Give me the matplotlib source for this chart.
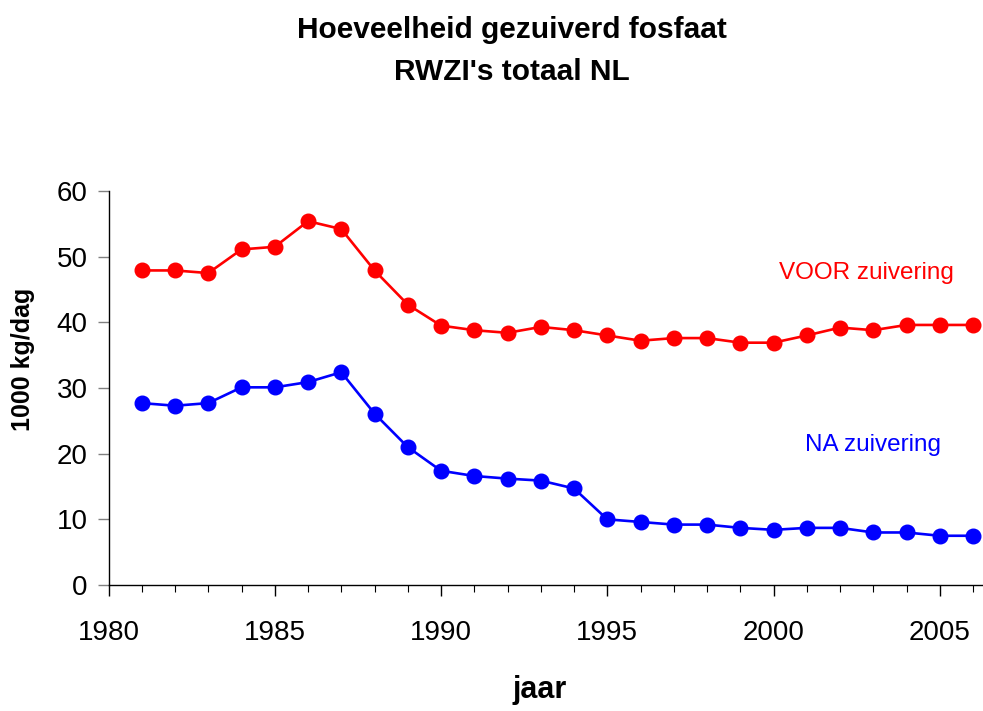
import matplotlib

matplotlib.use("Agg")
import matplotlib.pyplot as plt
from matplotlib.ticker import MultipleLocator

# gezuiverd fosfaat, RWZI's totaal NL (1000 kg/dag)
years = list(range(1981, 2007))
voor = [47.9, 47.9, 47.5, 51.1, 51.5, 55.4, 54.2, 47.9, 42.7, 39.5,
        38.8, 38.4, 39.3, 38.8, 38.0, 37.2, 37.6, 37.6, 36.9, 36.9,
        38.0, 39.2, 38.8, 39.6, 39.6, 39.6]
na = [27.7, 27.3, 27.7, 30.1, 30.1, 30.9, 32.4, 26.1, 21.0, 17.4,
      16.6, 16.2, 15.9, 14.7, 10.0, 9.6, 9.2, 9.2, 8.7, 8.4,
      8.7, 8.7, 8.0, 8.0, 7.5, 7.5]
labels = ["VOOR zuivering", "NA zuivering"]
colors = ["#FF0000", "#0000FF"]

plt.rcParams["font.family"] = ["Liberation Sans", "DejaVu Sans"]

fig = plt.figure(figsize=(9.83, 7.11), dpi=100)
ax = fig.add_axes([0.1104, 0.1772, 0.8896, 0.5542])

for vals, col in zip([voor, na], colors):
    ax.plot(years, vals, color=col, lw=1.9, marker="o", ms=10.5, clip_on=False, zorder=3)

ax.text(2002.8, 47.5, labels[0], color=colors[0], fontsize=17.5, ha="center", va="center")
ax.text(2003.0, 21.3, labels[1], color=colors[1], fontsize=17.5, ha="center", va="center")

ax.set_xlim(1980, 2006.3)
ax.set_ylim(0, 60)
ax.xaxis.set_major_locator(MultipleLocator(5))
ax.xaxis.set_minor_locator(MultipleLocator(1))
ax.yaxis.set_major_locator(MultipleLocator(10))
for side in ("top", "right"):
    ax.spines[side].set_visible(False)
for side in ("left", "bottom"):
    ax.spines[side].set_linewidth(1.0)
ax.tick_params(axis="x", which="major", direction="out", length=8, width=1,
               labelsize=20, pad=17)
ax.tick_params(axis="x", which="minor", direction="out", length=5, width=0.8)
ax.tick_params(axis="y", which="major", direction="out", length=8, width=1,
               color="#808080", labelsize=20, pad=7)

fig.text(0.549, 0.029, "jaar", ha="center", va="center", fontsize=22, fontweight="bold")
fig.text(0.023, 0.495, "1000 kg/dag", ha="center", va="center", rotation=90,
         fontsize=18, fontweight="bold")

fig.text(0.521, 0.958, "Hoeveelheid gezuiverd fosfaat", ha="center", va="center",
         fontsize=21.5, fontweight="bold")
fig.text(0.521, 0.899, "RWZI's totaal NL", ha="center", va="center",
         fontsize=21.5, fontweight="bold")

fig.savefig("out.png", dpi=100)
